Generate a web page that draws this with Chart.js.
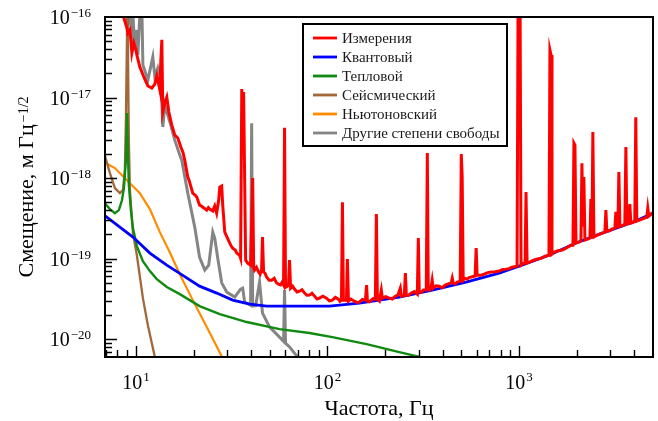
<!DOCTYPE html>
<html>
<head>
<meta charset="utf-8">
<script src="https://cdn.jsdelivr.net/npm/chart.js@4.4.0/dist/chart.umd.min.js"></script>
<style>
  html, body { margin: 0; padding: 0; background: #fff; }
  #chart { display: block; }
</style>
</head>
<body>
<canvas id="chart" width="658" height="421"></canvas>
<script>
// Измерения (measured displacement)
const measuredF = [8.46, 8.66, 8.98, 9.08, 9.31, 9.53, 9.76, 10.0, 10.12, 10.49, 11.0, 11.55, 12.11, 12.56, 12.86,
  13.18, 13.34, 13.5, 13.66, 13.82, 14.16, 14.5, 14.86, 15.4, 15.96, 16.55, 17.16, 17.99, 18.66, 19.34, 19.81,
  20.78, 21.5, 22.3, 23.44, 24.3, 25.2, 25.8, 26.4, 27.05, 27.4, 28.05, 28.4, 29.1, 30.9, 32.0, 33.6, 34.8,
  35.2, 35.7, 36.1, 36.5, 37.4, 38.3, 39.7, 40.7, 41.2, 41.6, 43.7, 45.3, 45.8, 46.4, 48.1, 51.1, 54.2, 56.9,
  59.0, 59.7, 60.4, 62.6, 63.4, 64.2, 67.3, 71.5, 75.9, 80.5, 85.6, 90.8, 98.8, 106, 114.1, 118.3, 119.7,
  121.1, 125.6, 127, 128.7, 138.2, 146.8, 157.8, 160, 161.6, 169.4, 177.8, 180, 182.2, 191, 193.4, 210.4, 226,
  240, 242.9, 251.8, 255, 258, 273.8, 294.3, 298, 301.3, 316.2, 327.8, 332, 335.7, 348.1, 352, 356.5, 383.1,
  411.7, 442.4, 448, 453, 475.4, 492.8, 499.4, 504.8, 511, 535.6, 562.3, 589.6, 597, 604.2, 657.3, 714.5, 787,
  855.1, 919.4, 976.3, 988, 1012, 1024, 1075, 1087, 1101, 1197, 1302, 1432, 1449, 1468, 1485, 1596, 1757, 1866,
  1911, 1933, 1957, 1982, 2053, 2103, 2128, 2154, 2178, 2207, 2343, 2370, 2400, 2427, 2458, 2610, 2805, 2838,
  2872, 3050, 3162, 3200, 3239, 3278, 3318, 3358, 3565, 3609, 3651, 3738, 3785, 3831, 4017, 4065, 4116, 4371,
  4642, 4696, 4754, 5050];
const measuredV = [1.22e-16, 9.7e-17, 7.3e-17, 6.3e-17, 6.9e-17, 3.57e-17, 4.75e-17, 3.9e-17, 3.37e-17, 2.39e-17,
  1.8e-17, 1.39e-17, 1.31e-17, 1.47e-17, 1.85e-17, 1.43e-17, 1.24e-17, 2.92e-17, 5.2e-17, 6.6e-18, 8.55e-18,
  1.01e-17, 6.6e-18, 4.55e-18, 3.42e-18, 3.14e-18, 2.43e-18, 1.67e-18, 1.03e-18, 7.96e-19, 6.5e-19, 5.8e-19,
  4.6e-19, 4.37e-19, 4.0e-19, 4.12e-19, 3.9e-19, 4.5e-19, 3.67e-19, 5.3e-19, 7.7e-19, 7.96e-19, 4.6e-19,
  2.13e-19, 1.56e-19, 1.35e-19, 1.17e-19, 1.1e-19, 1.01e-19, 1.28e-17, 2.23e-18, 1.17e-17, 9.6e-20, 8.8e-20,
  8.3e-20, 1.0e-18, 7.6e-20, 7.2e-20, 6.8e-20, 7.2e-20, 1.85e-19, 6.8e-20, 5.9e-20, 5.4e-20, 5.0e-20, 4.7e-20,
  4.7e-20, 4.2e-18, 4.4e-20, 4.7e-20, 9.6e-20, 4.3e-20, 4.18e-20, 3.94e-20, 3.73e-20, 3.52e-20, 3.42e-20,
  3.23e-20, 3.23e-20, 3.05e-20, 3.14e-20, 3.05e-20, 5.0e-19, 3.05e-20, 3.05e-20, 9.9e-20, 2.96e-20, 2.96e-20,
  2.88e-20, 3.05e-20, 4.7e-20, 2.96e-20, 3.05e-20, 3.14e-20, 3.57e-19, 3.14e-20, 4.07e-20, 3.23e-20, 3.23e-20,
  3.42e-20, 4.3e-20, 3.42e-20, 3.52e-20, 6.6e-20, 3.52e-20, 3.73e-20, 3.62e-20, 1.8e-19, 3.84e-20, 4.07e-20,
  4.07e-20, 2.05e-18, 4.18e-20, 4.55e-20, 5.4e-20, 4.3e-20, 4.55e-20, 4.7e-20, 5.0e-20, 5.7e-20, 5.0e-20,
  5.1e-20, 5.25e-20, 1.99e-18, 1.03e-18, 5.4e-20, 5.56e-20, 5.9e-20, 6.07e-20, 1.35e-19, 6.2e-20, 6.4e-20,
  6.8e-20, 7.0e-20, 7.4e-20, 7.8e-20, 8.07e-20, 1.6e-16, 1.6e-16, 8.3e-20, 8.8e-20, 6.7e-19, 8.8e-20, 9.6e-20,
  1.01e-19, 1.1e-19, 3.9e-17, 3.37e-17, 1.14e-19, 1.25e-19, 1.35e-19, 1.47e-19, 1.47e-19, 2.72e-18, 2.57e-18,
  1.56e-19, 1.6e-19, 1.65e-19, 1.53e-18, 2.5e-19, 1.03e-18, 1.7e-19, 1.8e-19, 5.5e-19, 1.8e-19, 3.72e-18,
  1.85e-19, 2.0e-19, 2.13e-19, 4.0e-19, 2.19e-19, 2.32e-19, 2.39e-19, 3.8e-19, 2.46e-19, 2.46e-19, 1.19e-18,
  2.53e-19, 2.68e-19, 2.43e-18, 2.68e-19, 2.76e-19, 4.75e-19, 2.76e-19, 2.92e-19, 5.7e-18, 2.92e-19, 3.1e-19,
  3.28e-19, 4.24e-19, 3.37e-19, 3.8e-19];
const measuredFuzzF = [17.6, 19.0, 20.3, 22.0, 23.9, 31.5, 33.0, 42.6, 44.5, 47.2, 49.6, 52.7, 55.5, 58.0,
  61.5, 65.7, 69.4, 73.6, 78.1, 83.0, 88.2, 94.7, 102.3, 110.0, 116.2, 132.4, 142.3, 152.0, 165.2, 173.6, 186.5,
  201.0, 218.0, 233.5, 265.0, 284.0, 308.5, 341.8, 369.0, 397.0, 426.5, 463.8, 521.3, 548.0, 575.4, 630.2,
  686.0, 750.4, 820.3, 887.1, 1050, 1150, 1250, 1366, 1520, 1680, 2280, 2530, 2960, 3450, 3950, 4250, 4500];
const measuredFuzzV = [2.1e-18, 9.2e-19, 6.2e-19, 4.5e-19, 4.3e-19, 1.42e-19, 1.28e-19, 7.8e-20, 6.4e-20, 6.6e-20,
  5.4e-20, 5.7e-20, 4.8e-20, 5.1e-20, 4.5e-20, 4.55e-20, 3.85e-20, 4.1e-20, 3.5e-20, 3.72e-20, 3.15e-20, 3.42e-20,
  2.98e-20, 3.3e-20, 2.95e-20, 3.15e-20, 2.86e-20, 3.12e-20, 2.9e-20, 3.2e-20, 2.98e-20, 3.38e-20, 3.15e-20,
  3.55e-20, 3.5e-20, 3.9e-20, 3.8e-20, 4.05e-20, 4.6e-20, 4.35e-20, 4.85e-20, 4.85e-20, 5.7e-20, 5.8e-20, 6.0e-20,
  6.2e-20, 6.7e-20, 6.85e-20, 7.35e-20, 7.5e-20, 8.7e-20, 9.2e-20, 9.9e-20, 1.07e-19, 1.2e-19, 1.28e-19,
  1.74e-19, 1.92e-19, 2.22e-19, 2.56e-19, 2.84e-19, 3.0e-19, 3.17e-19];

// Квантовый
const quantumF = [6.8, 8.25, 9.65, 11.83, 14.5, 17.58, 21.5, 26.4, 32.0, 39.3, 48.1, 71.5, 102.4, 146.8, 237,
  352, 529, 787, 1000, 1432, 1982, 2610, 3318, 4065, 5000];
const quantumV = [3.5e-19, 2.46e-19, 1.85e-19, 1.17e-19, 8.3e-20, 6.2e-20, 4.55e-20, 3.73e-20, 3.05e-20, 2.72e-20,
  2.57e-20, 2.57e-20, 2.57e-20, 2.8e-20, 3.33e-20, 4.07e-20, 5.1e-20, 6.6e-20, 8.07e-20, 1.1e-19, 1.56e-19,
  2.0e-19, 2.46e-19, 2.92e-19, 3.67e-19];

// Тепловой
const thermalF = [6.81, 7.32, 7.77, 8.15, 8.46, 8.66, 8.87, 8.98, 9.08, 9.19, 9.42, 9.65, 10.12, 10.88, 11.83,
  12.86, 14.5, 16.95, 21.5, 27.4, 37.9, 56.2, 80.5, 106, 160, 237, 291, 340];
const thermalV = [5.0e-19, 4.12e-19, 3.67e-19, 4.0e-19, 5.3e-19, 7.5e-19, 1.67e-18, 6.4e-18, 2.23e-18, 8.2e-19,
  4.0e-19, 2.39e-19, 1.43e-19, 9.3e-20, 7.0e-20, 5.56e-20, 4.44e-20, 3.62e-20, 2.57e-20, 2.05e-20, 1.63e-20,
  1.33e-20, 1.19e-20, 1.06e-20, 8.67e-21, 6.9e-21, 6.15e-21, 5.65e-21];

// Сейсмический
const seismicF = [6.81, 7.32, 7.77, 8.25, 8.56, 8.76, 8.87, 8.98, 9.03, 9.08, 9.19, 9.31, 9.65, 10.12, 10.88,
  11.55, 12.56, 12.86];
const seismicV = [2.1e-18, 1.15e-18, 7.5e-19, 6.5e-19, 7.1e-19, 1.26e-18, 5.25e-18, 5.2e-17, 3e-16, 5.2e-17,
  2.96e-18, 7.1e-19, 2.07e-19, 1.1e-19, 3.23e-20, 1.49e-20, 6.0e-21, 4.6e-21];

// Ньютоновский
const newtonianF = [6.81, 7.77, 8.98, 10.49, 11.83, 13.34, 15.03, 16.95, 19.81, 23.44, 28.05, 29.4];
const newtonianV = [1.58e-18, 1.33e-18, 9.4e-19, 6.5e-19, 4.12e-19, 2.13e-19, 1.2e-19, 6.4e-20, 3.05e-20,
  1.41e-20, 6.15e-21, 4.9e-21];

// Другие степени свободы
const otherF = [8.98, 9.19, 9.31, 9.53, 9.65, 9.88, 10.12, 10.24, 10.49, 10.75, 10.88, 11.55, 12.26, 12.56, 13.02,
  13.5, 13.82, 14.16, 14.68, 15.21, 15.96, 16.95, 17.36, 18.66, 20.29, 21.5, 22.9, 24.0, 25.2, 25.8, 26.7, 28.05,
  29.8, 32.8, 35.2, 36.1, 36.96, 39.7, 40.2, 40.7, 42.2, 44.2, 45.8, 49.9, 56.2, 59.0, 59.7, 60.4, 63.4, 69.8, 73.2];
const otherV = [1.4e-16, 8.0e-17, 1.2e-16, 4.5e-17, 1.06e-16, 3.9e-17, 6.9e-17, 3.37e-17, 1.06e-16, 1.2e-16,
  2.53e-17, 1.65e-17, 3.2e-17, 1.8e-17, 2.32e-17, 1.65e-17, 4.3e-18, 8.07e-18, 6.07e-18, 4.55e-18, 2.96e-18,
  1.93e-18, 1.67e-18, 6.5e-19, 2.46e-19, 1.04e-19, 7.2e-20, 8.3e-20, 2.13e-19, 1.8e-19, 1.04e-19, 5.0e-20,
  3.84e-20, 3.33e-20, 4.18e-20, 4.3e-20, 2.88e-20, 2.64e-20, 4.8e-18, 2.57e-20, 2.6e-20, 5.1e-20, 2.1e-20,
  1.41e-20, 1.06e-20, 9.4e-21, 4.07e-20, 8.9e-21, 8.0e-21, 6.0e-21, 4.7e-21];

const seriesLabels = ['Измерения', 'Квантовый', 'Тепловой', 'Сейсмический', 'Ньютоновский', 'Другие степени свободы'];
const seriesColors = ['#ff0000', '#0000ff', '#108a10', '#a2683a', '#ff8c00', '#858585'];
const seriesWidths = [3, 2.8, 2.4, 2.3, 2.2, 3];

const xTickExps = [1, 2, 3];
const yTickExps = [-16, -17, -18, -19, -20];
const xLabel = 'Частота, Гц';
const yLabel = 'Смещение, м Гц';
const yLabelExp = '−1/2';

const SERIF = "'Liberation Serif', 'Times New Roman', serif";

function zip(fs, vs) {
  return fs.map((f, i) => ({ x: f, y: vs[i] }));
}

const measuredPts = zip(measuredF, measuredV)
  .concat(zip(measuredFuzzF, measuredFuzzV))
  .sort((a, b) => a.x - b.x);

const allSeries = [
  measuredPts,
  zip(quantumF, quantumV),
  zip(thermalF, thermalV),
  zip(seismicF, seismicV),
  zip(newtonianF, newtonianV),
  zip(otherF, otherV)
];

function drawPower(ctx, exp, x, baseY, expY, baseSize, expSize, align) {
  const expStr = exp < 0 ? '−' + Math.abs(exp) : String(exp);
  ctx.font = baseSize + 'px ' + SERIF;
  const wb = ctx.measureText('10').width;
  ctx.font = expSize + 'px ' + SERIF;
  const we = ctx.measureText(expStr).width;
  const left = align === 'right' ? x - wb - we - 1 : x - (wb + we + 1) / 2;
  ctx.textAlign = 'left';
  ctx.textBaseline = 'alphabetic';
  ctx.font = baseSize + 'px ' + SERIF;
  ctx.fillText('10', left, baseY);
  ctx.font = expSize + 'px ' + SERIF;
  ctx.fillText(expStr, left + wb + 1, expY);
}

const frame = {
  id: 'frame',
  afterDraw(chart) {
    const { ctx, chartArea: a } = chart;
    const xs = chart.scales.x;
    const ys = chart.scales.y;
    ctx.save();
    ctx.fillStyle = '#000';
    ctx.strokeStyle = '#000';

    // inward ticks, bottom and left only
    ctx.lineWidth = 1.4;
    ctx.beginPath();
    for (let d = 0; d <= 3; d++) {
      for (let m = 1; m < 10; m++) {
        const v = m * Math.pow(10, d);
        if (v <= xs.min || v >= xs.max) continue;
        const px = Math.round(xs.getPixelForValue(v)) + 0.5;
        ctx.moveTo(px, a.bottom);
        ctx.lineTo(px, a.bottom - (m === 1 ? 11 : 7));
      }
    }
    for (let d = -21; d <= -17; d++) {
      for (let m = 1; m < 10; m++) {
        const v = m * Math.pow(10, d);
        if (v <= ys.min * 1.001 || v >= ys.max * 0.999) continue;
        const py = Math.round(ys.getPixelForValue(v)) + 0.5;
        ctx.moveTo(a.left, py);
        ctx.lineTo(a.left + (m === 1 ? 12 : 7), py);
      }
    }
    ctx.stroke();

    ctx.lineWidth = 2;
    ctx.strokeRect(a.left, a.top, a.right - a.left, a.bottom - a.top);

    // tick labels
    yTickExps.forEach(e => {
      const py = ys.getPixelForValue(Math.pow(10, e));
      drawPower(ctx, e, 91, py + 7, py, 20, 13, 'right');
    });
    xTickExps.forEach(e => {
      const px = xs.getPixelForValue(Math.pow(10, e));
      drawPower(ctx, e, px, 389, 381, 20, 13, 'center');
    });

    // axis titles
    ctx.font = '22px ' + SERIF;
    ctx.textAlign = 'center';
    ctx.textBaseline = 'alphabetic';
    ctx.fillText(xLabel, (a.left + a.right) / 2, 415);

    ctx.save();
    ctx.translate(33, (a.top + a.bottom) / 2);
    ctx.rotate(-Math.PI / 2);
    ctx.font = '22px ' + SERIF;
    const wm = ctx.measureText(yLabel).width;
    ctx.font = '14px ' + SERIF;
    const we = ctx.measureText(yLabelExp).width;
    const start = -(wm + we + 2) / 2;
    ctx.textAlign = 'left';
    ctx.font = '22px ' + SERIF;
    ctx.fillText(yLabel, start, 0);
    ctx.font = '14px ' + SERIF;
    ctx.fillText(yLabelExp, start + wm + 2, -5);
    ctx.restore();

    // legend
    const lx = 303, ly = 24, lw = 204, lh = 122;
    ctx.fillStyle = '#fff';
    ctx.fillRect(lx, ly, lw, lh);
    ctx.lineWidth = 2;
    ctx.strokeStyle = '#000';
    ctx.strokeRect(lx, ly, lw, lh);
    ctx.font = '15px ' + SERIF;
    ctx.textAlign = 'left';
    chart.data.datasets.forEach((ds, i) => {
      const ry = 38 + i * 19;
      ctx.strokeStyle = ds.borderColor;
      ctx.lineWidth = 2.8;
      ctx.beginPath();
      ctx.moveTo(313, ry);
      ctx.lineTo(337, ry);
      ctx.stroke();
      ctx.fillStyle = '#1a1a1a';
      ctx.fillText(ds.label, 342, ry + 5);
    });
    ctx.restore();
  }
};

new Chart(document.getElementById('chart'), {
  type: 'line',
  data: {
    datasets: allSeries.map((pts, i) => ({
      label: seriesLabels[i],
      data: pts,
      borderColor: seriesColors[i],
      backgroundColor: seriesColors[i],
      borderWidth: seriesWidths[i],
      borderJoinStyle: 'miter',
      pointRadius: 0,
      tension: 0,
      fill: false
    }))
  },
  options: {
    responsive: false,
    animation: false,
    devicePixelRatio: 1,
    layout: { padding: { left: 0, right: 5, top: 17, bottom: 0 } },
    plugins: { legend: { display: false }, tooltip: { enabled: false } },
    scales: {
      x: {
        type: 'logarithmic',
        min: 6.9,
        max: 5000,
        grid: { display: false },
        border: { display: false },
        ticks: { display: false },
        afterFit(scale) { scale.height = 64; }
      },
      y: {
        type: 'logarithmic',
        min: 6e-21,
        max: 1e-16,
        grid: { display: false },
        border: { display: false },
        ticks: { display: false },
        afterFit(scale) { scale.width = 105; }
      }
    }
  },
  plugins: [frame]
});
</script>
</body>
</html>
